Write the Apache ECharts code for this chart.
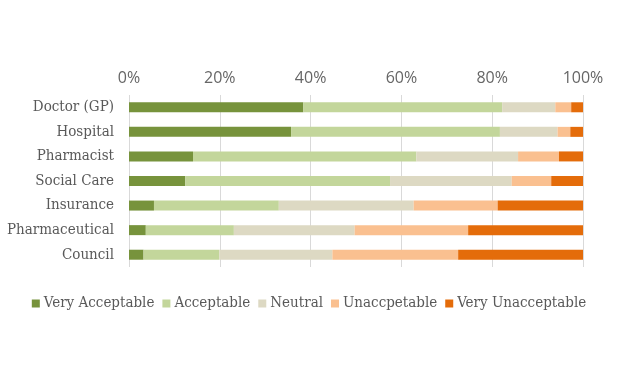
<!DOCTYPE html>
<html>
<head>
<meta charset="utf-8">
<script src="https://cdn.jsdelivr.net/npm/echarts@6/dist/echarts.min.js"></script>
<style>html,body{margin:0;padding:0;background:#fff}#c{width:618px;height:384px}</style>
</head>
<body>
<div id="c"></div>
<script>
const categories = ['Doctor (GP)', 'Hospital', 'Pharmacist', 'Social Care', 'Insurance', 'Pharmaceutical', 'Council'];
const seriesNames = ['Very Acceptable', 'Acceptable', 'Neutral', 'Unaccpetable', 'Very Unacceptable'];
const veryAcceptable   = [38.4, 35.7, 14.1, 12.4, 5.5, 3.7, 3.2];
const acceptable       = [43.8, 46.0, 49.2, 45.1, 27.5, 19.4, 16.7];
const neutral          = [11.7, 12.7, 22.4, 26.8, 29.7, 26.6, 24.9];
const unacceptable     = [3.5, 2.8, 9.0, 8.7, 18.5, 25.0, 27.7];
const veryUnacceptable = [2.6, 2.8, 5.3, 7.0, 18.8, 25.3, 27.5];
const tickLabels = ['0%', '20%', '40%', '60%', '80%', '100%'];

const colors = ['#77933c', '#c3d69b', '#ddd9c3', '#fac090', '#e46c0a'];
const values = [veryAcceptable, acceptable, neutral, unacceptable, veryUnacceptable];
const serif = "'DejaVu Serif Condensed', 'Liberation Serif', serif";

const chart = echarts.init(document.getElementById('c'), null, {renderer: 'canvas'});
chart.setOption({
  animation: false,
  color: colors,
  grid: {left: 129, right: 35, top: 95, bottom: 117, containLabel: false},
  legend: {
    data: seriesNames,
    bottom: 68,
    left: 'center',
    icon: 'rect',
    itemWidth: 8,
    itemHeight: 8,
    itemGap: 8,
    textStyle: {fontFamily: serif, fontSize: 15, color: '#595959', padding: [0, 0, 0, -1]}
  },
  xAxis: {
    type: 'value',
    position: 'top',
    min: 0, max: 100, interval: 20,
    axisLine: {show: false},
    axisTick: {show: false},
    splitLine: {lineStyle: {color: '#d9d9d9', width: 1}},
    axisLabel: {
      margin: 9,
      fontFamily: 'Open Sans',
      fontSize: 16,
      color: '#666666',
      formatter: function (v) { return tickLabels[Math.round(v / 20)]; }
    }
  },
  yAxis: {
    type: 'category',
    data: categories,
    inverse: true,
    axisLine: {show: false},
    axisTick: {show: false},
    axisLabel: {margin: 15, fontFamily: serif, fontSize: 15, color: '#595959'}
  },
  series: seriesNames.map((n, i) => ({
    name: n,
    type: 'bar',
    stack: 'total',
    barWidth: 10,
    data: values[i],
    itemStyle: {color: colors[i]}
  }))
});
</script>
</body>
</html>
